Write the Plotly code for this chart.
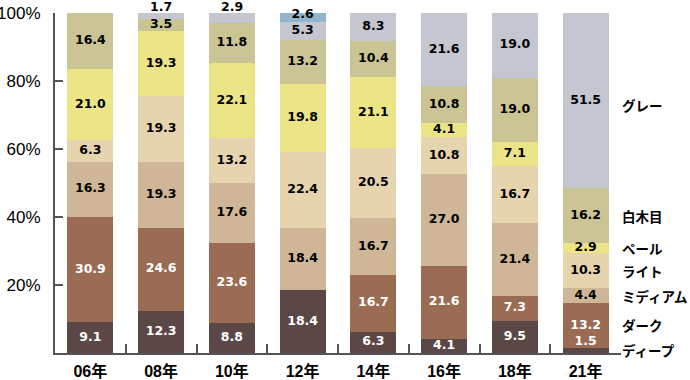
import plotly.graph_objects as go

years = ["06年", "08年", "10年", "12年", "14年", "16年", "18年", "21年"]
series_names = ["ディープ", "ダーク", "ミディアム", "ライト", "ペール", "白木目", "グレー", "その他"]

deep   = [9.1, 12.3, 8.8, 18.4, 6.3, 4.1, 9.5, 1.5]
dark   = [30.9, 24.6, 23.6, 0.0, 16.7, 21.6, 7.3, 13.2]
medium = [16.3, 19.3, 17.6, 18.4, 16.7, 27.0, 21.4, 4.4]
light  = [6.3, 19.3, 13.2, 22.4, 20.5, 10.8, 16.7, 10.3]
pale   = [21.0, 19.3, 22.1, 19.8, 21.1, 4.1, 7.1, 2.9]
wood   = [16.4, 3.5, 11.8, 13.2, 10.4, 10.8, 19.0, 16.2]
gray   = [0.0, 1.7, 2.9, 5.3, 8.3, 21.6, 19.0, 51.5]
other  = [0.0, 0.0, 0.0, 2.6, 0.0, 0.0, 0.0, 0.0]

series = [deep, dark, medium, light, pale, wood, gray, other]
colors = ["#5b4846", "#9b6c54", "#cfb697", "#e6d4af", "#ece587", "#cbc595", "#c4c7d0", "#90b6cd"]
text_colors = ["white", "white", "black", "black", "black", "black", "black", "black"]

label_font = dict(family="DejaVu Sans, sans-serif", size=12.5, weight="bold")

fig = go.Figure()
for name, vals, col in zip(series_names, series, colors):
    fig.add_trace(go.Bar(x=years, y=vals, name=name, marker=dict(color=col, line=dict(width=0)),
                         hoverinfo="skip"))

# value labels
lx, ly, lt, lc = [], [], [], []
for i, yr in enumerate(years):
    base = 0.0
    for s, vals in enumerate(series):
        v = vals[i]
        if v > 0:
            mid = base + v / 2
            if s == 6 and v < 4 and base + v >= 99.9:
                # small top segment: label sits just above the bar
                fig.add_annotation(x=yr, y=100, xref="x", yref="y", text=f"{v:.1f}",
                                   showarrow=False, yanchor="middle", yshift=7,
                                   font=dict(color=text_colors[s], **label_font))
                base += v
                continue
            elif s == 0 and v < 2:
                ypos = 3.2
            elif s == 7:
                ypos = mid + 0.8
            else:
                ypos = mid
            lx.append(yr); ly.append(ypos); lt.append(f"{v:.1f}"); lc.append(text_colors[s])
        base += v

fig.add_trace(go.Scatter(x=lx, y=ly, text=lt, mode="text", cliponaxis=False, hoverinfo="skip",
                         textposition="middle center",
                         textfont=dict(color=lc, **label_font),
                         showlegend=False))

# right-side series labels at 21年 segment middles
last = len(years) - 1
base = 0.0
for s in range(7):
    v = series[s][last]
    mid = base + v / 2
    fig.add_annotation(x=1, xref="paper", y=mid, yref="y", text=series_names[s], showarrow=False,
                       xanchor="left", xshift=-1, yshift=(-4 if s == 6 else 0),
                       font=dict(family="Noto Sans CJK JP, sans-serif", size=13.5, color="black",
                                 weight="bold"))
    base += v

axis_col = "#555555"
fig.update_layout(
    barmode="stack",
    bargap=0.35,
    width=690, height=380,
    margin=dict(l=55, r=69, t=13, b=27, autoexpand=False),
    plot_bgcolor="white", paper_bgcolor="white",
    showlegend=False,
    xaxis=dict(showline=True, linecolor=axis_col, linewidth=2, ticks="inside", tickson="boundaries",
               ticklen=9, tickwidth=1.5, tickcolor=axis_col, showgrid=False, zeroline=False,
               automargin=False,
               tickfont=dict(family="Liberation Sans, Noto Sans CJK JP, sans-serif", size=16,
                             color="black", weight="bold"),
               ticklabelstandoff=3),
    yaxis=dict(range=[0, 100], showline=True, linecolor=axis_col, linewidth=2, ticks="inside",
               ticklen=8, tickwidth=2, tickcolor=axis_col, showgrid=False, zeroline=False,
               automargin=False,
               tickvals=[20, 40, 60, 80, 100], ticktext=["20%", "40%", "60%", "80%", "100%"],
               tickfont=dict(family="Liberation Sans, Arial, sans-serif", size=17, color="black"),
               ticklabelstandoff=9),
)

fig.write_html("out.html", config={"displayModeBar": False},
               post_script="document.body.style.margin='0';")
